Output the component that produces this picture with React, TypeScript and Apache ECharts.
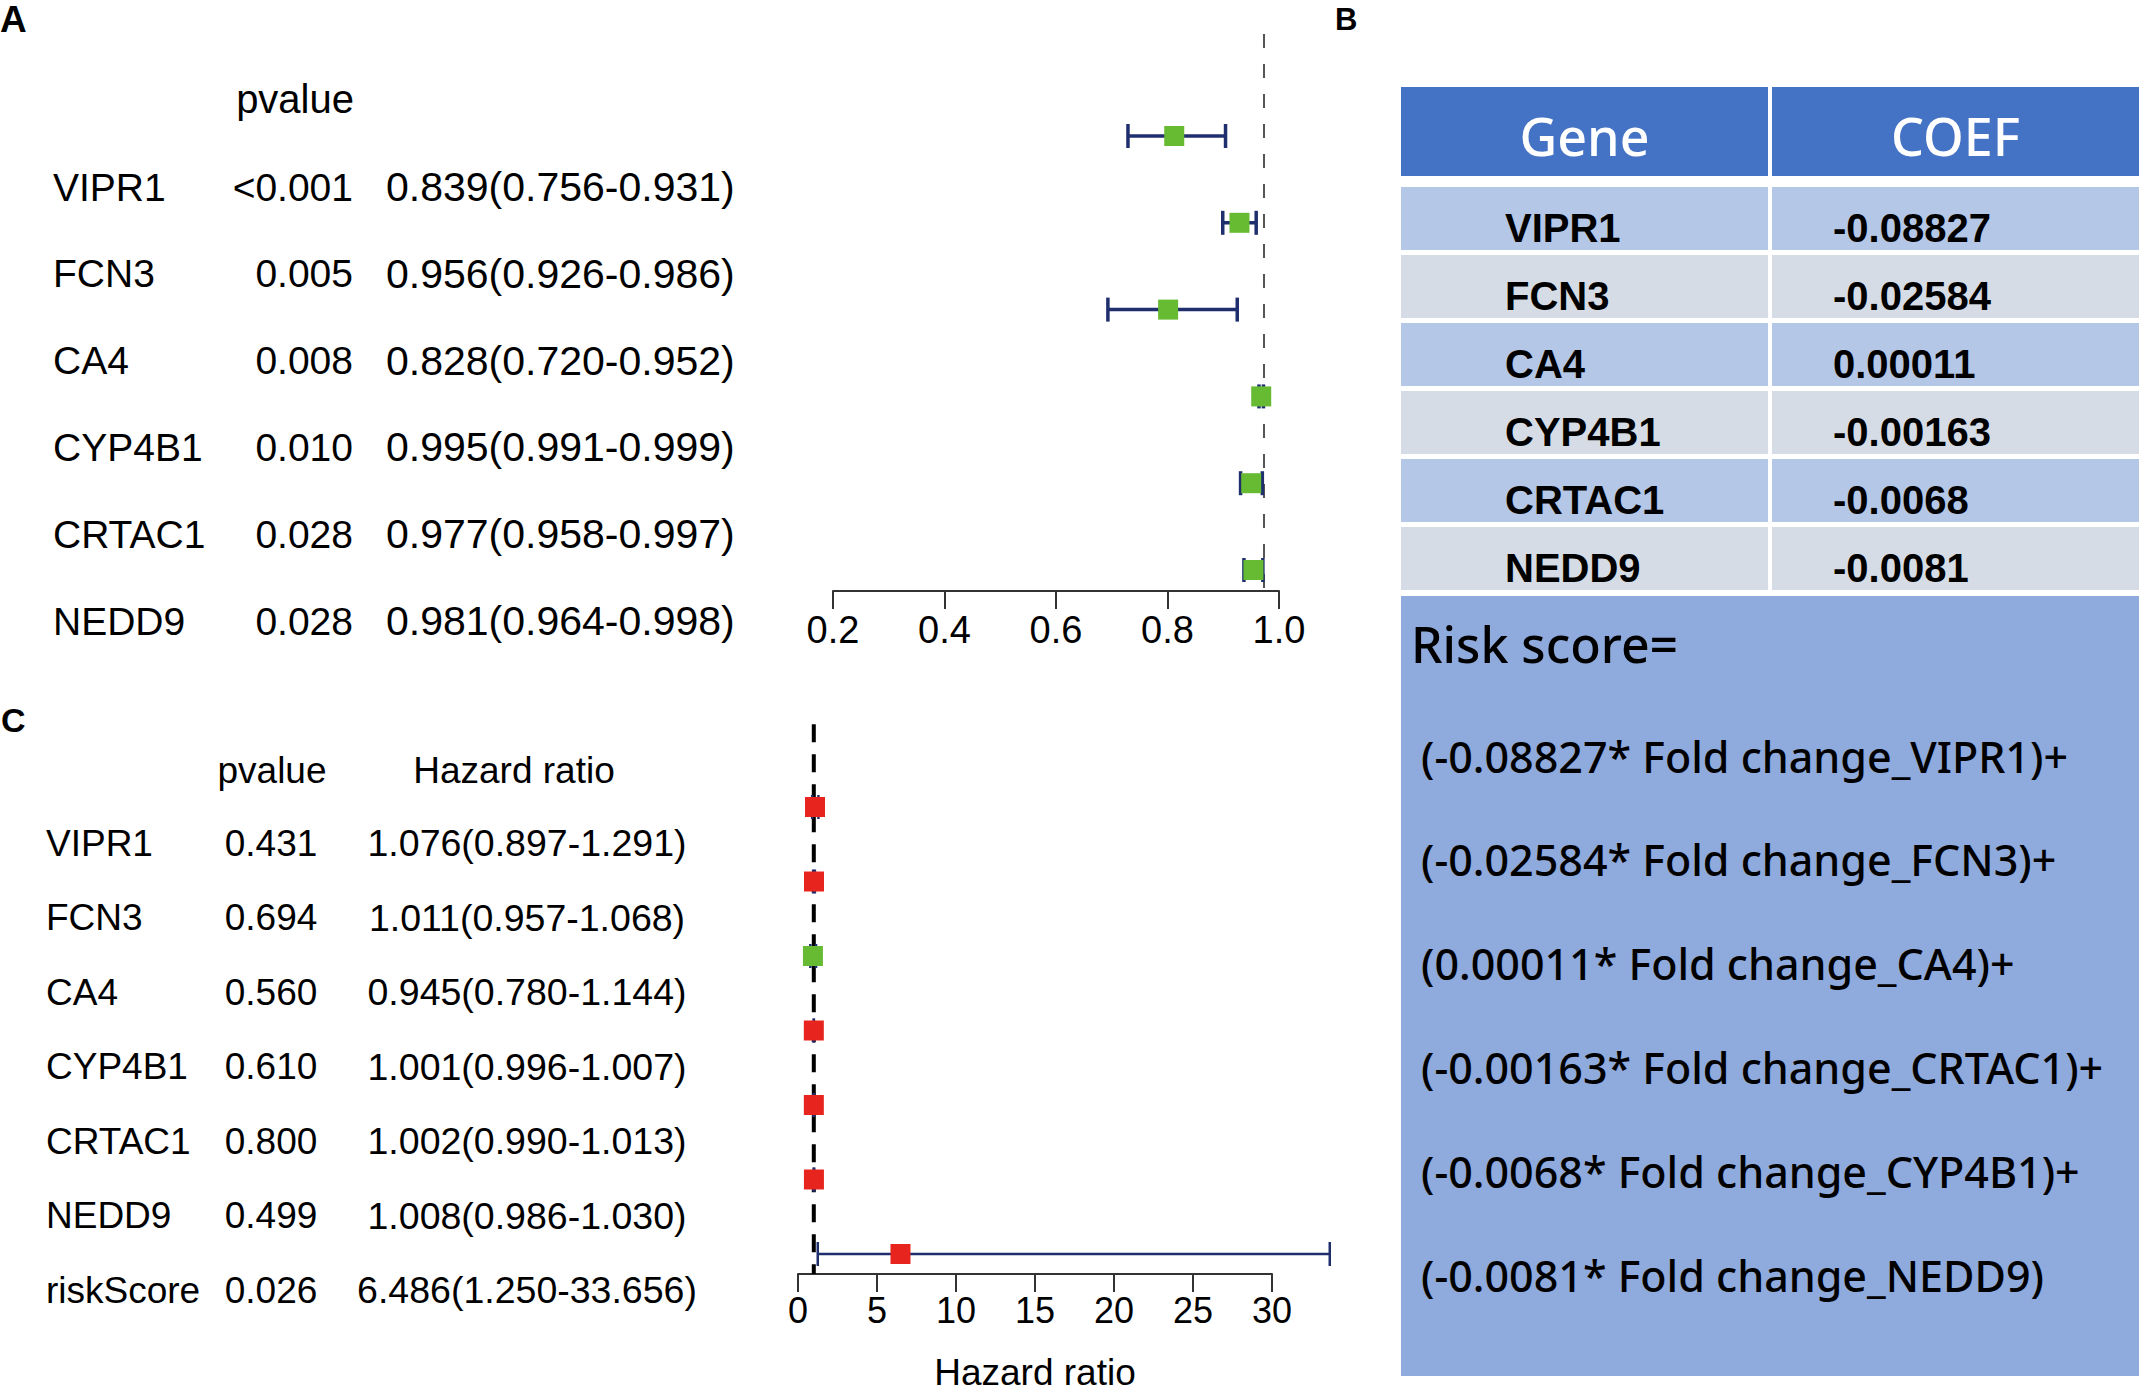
import React, { useEffect, useRef } from "react";
import * as echarts from "echarts";

// ---------- data ----------
const genesA = ["VIPR1", "FCN3", "CA4", "CYP4B1", "CRTAC1", "NEDD9"];
const pvalA = ["<0.001", "0.005", "0.008", "0.010", "0.028", "0.028"];
const hrA = [0.839, 0.956, 0.828, 0.995, 0.977, 0.981];
const loA = [0.756, 0.926, 0.72, 0.991, 0.958, 0.964];
const hiA = [0.931, 0.986, 0.952, 0.999, 0.997, 0.998];
const ticksA = [0.2, 0.4, 0.6, 0.8, 1.0];

const genesC = ["VIPR1", "FCN3", "CA4", "CYP4B1", "CRTAC1", "NEDD9", "riskScore"];
const pvalC = ["0.431", "0.694", "0.560", "0.610", "0.800", "0.499", "0.026"];
const hrC = [1.076, 1.011, 0.945, 1.001, 1.002, 1.008, 6.486];
const loC = [0.897, 0.957, 0.78, 0.996, 0.99, 0.986, 1.25];
const hiC = [1.291, 1.068, 1.144, 1.007, 1.013, 1.03, 33.656];
const ticksC = [0, 5, 10, 15, 20, 25, 30];

const tableGenes = ["VIPR1", "FCN3", "CA4", "CYP4B1", "CRTAC1", "NEDD9"];
const tableCoefs = ["-0.08827", "-0.02584", "0.00011", "-0.00163", "-0.0068", "-0.0081"];
const formulaGenes = ["VIPR1", "FCN3", "CA4", "CRTAC1", "CYP4B1", "NEDD9"];
const formulaCoefs = ["-0.08827", "-0.02584", "0.00011", "-0.00163", "-0.0068", "-0.0081"];

// ---------- styles ----------
const RFONT = '"Liberation Sans", Arial, Helvetica, sans-serif';
const YFONT = '"Noto Sans", "Noto Sans CJK SC", sans-serif';
const GREEN = "#66BB33";
const RED = "#E8241E";
const NAVY = "#1F2F6E";

const fmt3 = (v: number) => v.toFixed(3);

function txt(text: string, x: number, y: number, size: number, opts: any = {}) {
  const align = opts.align || "left";
  return {
    type: "text",
    x,
    y,
    z: 100,
    style: {
      text,
      fontSize: size,
      fontFamily: opts.font || RFONT,
      fontWeight: opts.weight || (opts.bold ? "bold" : "normal"),
      fill: opts.color || "#000",
      align,
      textAlign: align,
      verticalAlign: "middle",
      textVerticalAlign: "middle",
    },
  };
}

function forestRender(capHalf: number, lw: number) {
  return (params: any, api: any) => {
    const row = api.value(0);
    const hr = api.value(1);
    const lo = api.value(2);
    const hi = api.value(3);
    const pLo = api.coord([lo, row]);
    const pHi = api.coord([hi, row]);
    const pHr = api.coord([hr, row]);
    const ls = { stroke: NAVY, lineWidth: lw };
    return {
      type: "group",
      children: [
        { type: "line", shape: { x1: pLo[0], y1: pLo[1], x2: pHi[0], y2: pHi[1] }, style: ls },
        { type: "line", shape: { x1: pLo[0], y1: pLo[1] - capHalf, x2: pLo[0], y2: pLo[1] + capHalf }, style: ls },
        { type: "line", shape: { x1: pHi[0], y1: pHi[1] - capHalf, x2: pHi[0], y2: pHi[1] + capHalf }, style: ls },
        {
          type: "rect",
          shape: { x: pHr[0] - 10, y: pHr[1] - 10, width: 20, height: 20 },
          style: { fill: hr < 1 ? GREEN : RED },
        },
      ],
    };
  };
}

export default function App() {
  const ref = useRef<HTMLDivElement>(null);

  useEffect(() => {
    if (!ref.current) return;
    document.body.style.margin = "0";
    const chart = echarts.init(ref.current, null, { renderer: "svg" });

    // layout constants (pixels)
    const A_TOP = 136, A_STEP = 86.8, A_TEXT0 = 187;
    const C_TOP = 807, C_STEP = 74.67, C_TEXT0 = 843, C_TSTEP = 74.5;

    const graphics: any[] = [];
    // panel labels
    graphics.push(txt("A", 0, 19, 37, { bold: true }));
    graphics.push(txt("B", 1335, 19, 31, { bold: true }));
    graphics.push(txt("C", 1, 720, 34, { bold: true }));

    // panel A texts
    graphics.push(txt("pvalue", 354, 99, 40, { align: "right" }));
    genesA.forEach((g, i) => {
      const y = A_TEXT0 + i * A_STEP;
      graphics.push(txt(g, 53, y, 39));
      graphics.push(txt(pvalA[i], 353, y, 39, { align: "right" }));
      graphics.push(txt(`${fmt3(hrA[i])}(${fmt3(loA[i])}-${fmt3(hiA[i])})`, 386, y, 41));
    });

    // panel C texts
    graphics.push(txt("pvalue", 272, 770, 37, { align: "center" }));
    graphics.push(txt("Hazard ratio", 514, 770, 37, { align: "center" }));
    genesC.forEach((g, i) => {
      const y = C_TEXT0 + i * C_TSTEP;
      graphics.push(txt(g, 46, y, 37));
      graphics.push(txt(pvalC[i], 271, y, 37, { align: "center" }));
      graphics.push(txt(`${fmt3(hrC[i])}(${fmt3(loC[i])}-${fmt3(hiC[i])})`, 527, y, 37.5, { align: "center" }));
    });

    // panel B table
    const TX = 1401, CW = 367, GAP = 4;
    graphics.push({ type: "rect", z: 1, shape: { x: TX, y: 87, width: CW, height: 89 }, style: { fill: "#4472C4" } });
    graphics.push({ type: "rect", z: 1, shape: { x: TX + CW + GAP, y: 87, width: CW, height: 89 }, style: { fill: "#4472C4" } });
    graphics.push(txt("Gene", TX + CW / 2, 135, 52, { align: "center", font: YFONT, color: "#fff", weight: 500 }));
    graphics.push(txt("COEF", TX + CW + GAP + CW / 2, 135, 52, { align: "center", font: YFONT, color: "#fff", weight: 500 }));
    tableGenes.forEach((g, i) => {
      const top = 187 + i * 68;
      const fill = i % 2 === 0 ? "#B4C7E7" : "#D6DCE5";
      graphics.push({ type: "rect", z: 1, shape: { x: TX, y: top, width: CW, height: 63 }, style: { fill } });
      graphics.push({ type: "rect", z: 1, shape: { x: TX + CW + GAP, y: top, width: CW, height: 63 }, style: { fill } });
      graphics.push(txt(g, 1505, top + 41, 40, { bold: true }));
      graphics.push(txt(tableCoefs[i], 1833, top + 41, 40, { bold: true }));
    });
    graphics.push({ type: "rect", z: 1, shape: { x: TX, y: 596, width: CW * 2 + GAP, height: 780 }, style: { fill: "#8FAADC" } });
    graphics.push(txt("Risk score=", 1411, 644, 50, { font: YFONT, weight: 500 }));
    formulaGenes.forEach((g, i) => {
      const last = i === formulaGenes.length - 1;
      graphics.push(
        txt(`(${formulaCoefs[i]}* Fold change_${g})${last ? "" : "+"}`, 1421, 756 + i * 103.8, 43, { font: YFONT, weight: 500 })
      );
    });

    const dataA = hrA.map((v, i) => [i, v, loA[i], hiA[i]]);
    const dataC = hrC.map((v, i) => [i, v, loC[i], hiC[i]]);

    const axisLineStyle = { color: "#333", width: 2 };

    const option: any = {
      animation: false,
      backgroundColor: "#fff",
      grid: [
        { left: 818, width: 446, top: A_TOP, height: A_STEP * 5 },
        { left: 833, width: 446, top: A_TOP, height: A_STEP * 5 },
        { left: 798, width: 474, top: C_TOP, height: C_STEP * 6 },
      ],
      xAxis: [
        { gridIndex: 0, type: "value", min: 0.2, max: 1.0, show: false },
        {
          gridIndex: 1,
          type: "value",
          position: "bottom",
          min: 0.2,
          max: 1.0,
          interval: 0.2,
          offset: 21,
          axisLine: { show: true, onZero: false, lineStyle: axisLineStyle },
          axisTick: { show: true, length: 18, lineStyle: axisLineStyle },
          splitLine: { show: false },
          axisLabel: {
            fontSize: 38,
            fontFamily: RFONT,
            color: "#000",
            margin: 20,
            formatter: (v: number) => (ticksA.some((t) => Math.abs(t - v) < 1e-6) ? v.toFixed(1) : ""),
          },
        },
        {
          gridIndex: 2,
          type: "value",
          position: "bottom",
          min: 0,
          max: 30,
          interval: 5,
          offset: 20,
          axisLine: { show: true, onZero: false, lineStyle: axisLineStyle },
          axisTick: { show: true, length: 18, lineStyle: axisLineStyle },
          splitLine: { show: false },
          axisLabel: {
            fontSize: 36,
            fontFamily: RFONT,
            color: "#000",
            margin: 18,
            formatter: (v: number) => (ticksC.includes(v) ? String(v) : ""),
          },
          name: "Hazard ratio",
          nameLocation: "middle",
          nameGap: 80,
          nameTextStyle: { fontSize: 37, fontFamily: RFONT, color: "#000" },
        },
      ],
      yAxis: [
        { gridIndex: 0, type: "value", min: 0, max: 5, inverse: true, show: false },
        { gridIndex: 1, type: "value", min: 0, max: 5, inverse: true, show: false },
        { gridIndex: 2, type: "value", min: 0, max: 6, inverse: true, show: false },
      ],
      series: [
        {
          type: "line",
          xAxisIndex: 0,
          yAxisIndex: 0,
          clip: false,
          symbol: "none",
          z: 1,
          lineStyle: { color: "#555", width: 2, type: [14, 16] },
          data: [
            [1, -(A_TOP - 34) / A_STEP],
            [1, (591 - A_TOP) / A_STEP],
          ],
        },
        {
          type: "custom",
          xAxisIndex: 0,
          yAxisIndex: 0,
          clip: false,
          z: 5,
          renderItem: forestRender(12, 3.5),
          encode: { x: [1, 2, 3], y: 0 },
          data: dataA,
        },
        {
          type: "line",
          xAxisIndex: 2,
          yAxisIndex: 2,
          clip: false,
          symbol: "none",
          z: 1,
          lineStyle: { color: "#000", width: 4, type: [18, 12] },
          data: [
            [1, -(C_TOP - 724) / C_STEP],
            [1, (1275 - C_TOP) / C_STEP],
          ],
        },
        {
          type: "custom",
          xAxisIndex: 2,
          yAxisIndex: 2,
          clip: false,
          z: 5,
          renderItem: forestRender(12, 2.5),
          encode: { x: [1, 2, 3], y: 0 },
          data: dataC,
        },
      ],
      graphic: { elements: graphics },
    };

    chart.setOption(option);
    return () => chart.dispose();
  }, []);

  return <div ref={ref} style={{ width: 2142, height: 1392, position: "absolute", left: 0, top: 0 }} />;
}
